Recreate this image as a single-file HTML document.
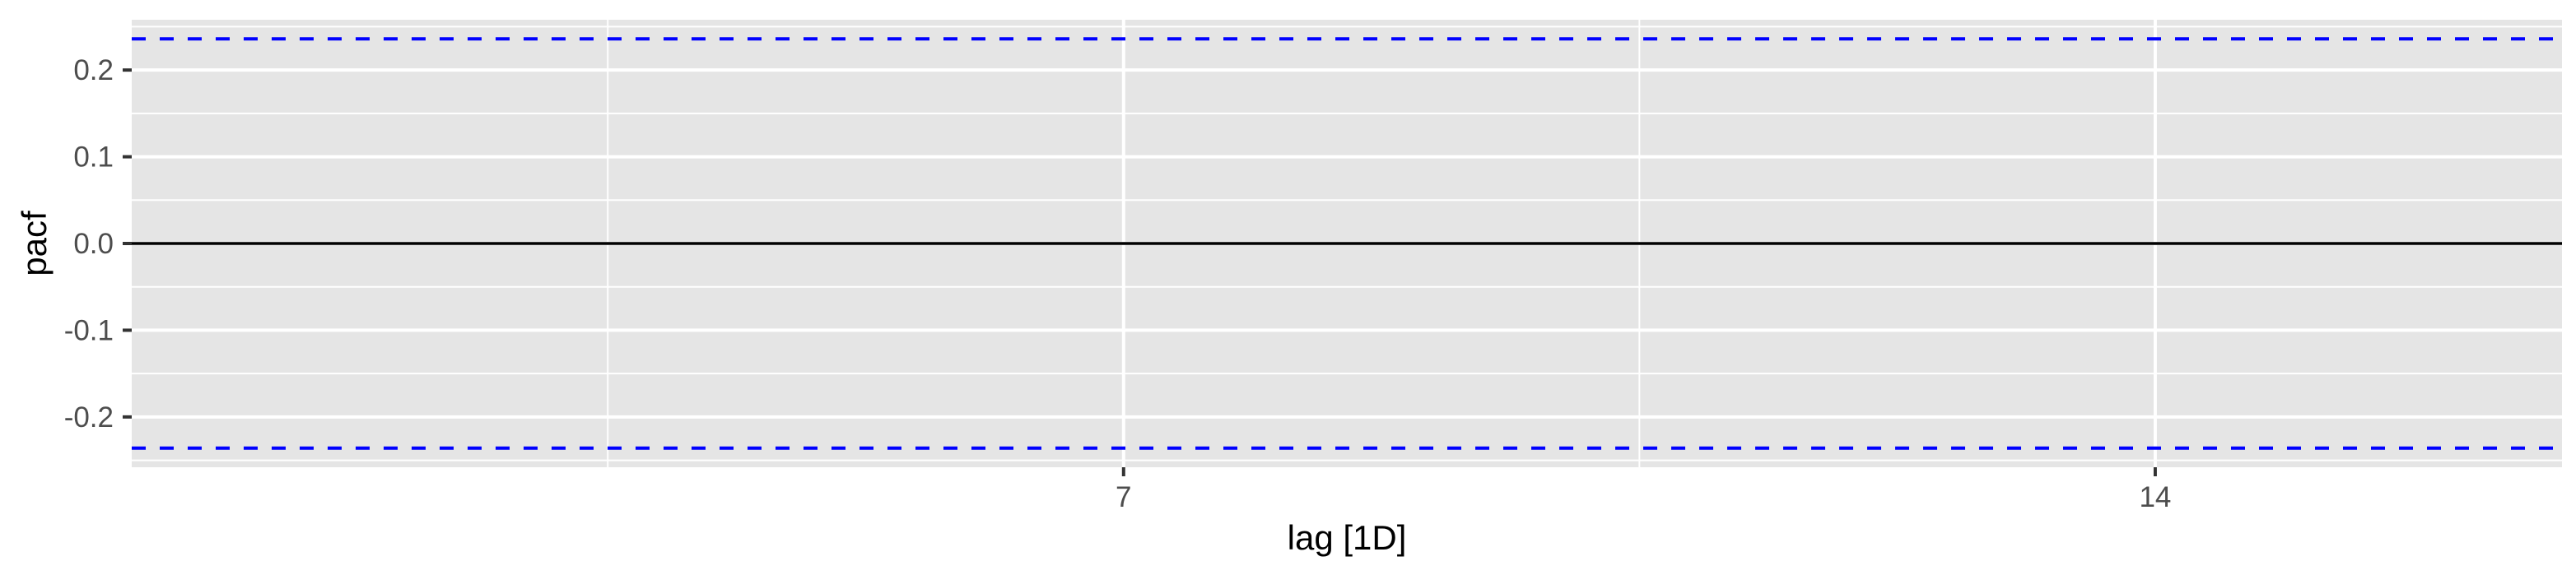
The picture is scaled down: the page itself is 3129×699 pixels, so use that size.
<!DOCTYPE html>
<html><head><meta charset="utf-8"><style>
html,body{margin:0;padding:0;background:#fff;}
svg{display:block;font-family:"Liberation Sans",Arial,sans-serif;}
</style></head><body>
<svg id="chart" width="3129" height="699" viewBox="0 0 3129 699">
<rect x="0" y="0" width="3129" height="699" fill="#fff"/>
<rect x="160" y="24" width="2952" height="544" fill="#e5e5e5"/>
<g id="grid"></g>
<g id="marks"></g>
<g id="axes"></g>
<text x="1636" y="668" font-size="42" fill="#000" text-anchor="middle">lag [1D]</text>
<text transform="translate(56,296) rotate(-90)" font-size="42" fill="#000" text-anchor="middle">pacf</text>
</svg>
<script>
const lags = [1,2,3,4,5,6,7,8,9,10,11,12,13,14,15,16];
const pacfValues = [0,0,0,0,0,0,0,0,0,0,0,0,0,0,0,0];
const ciLimit = 0.236;
const yTicks = [-0.2,-0.1,0.0,0.1,0.2];
const yTickLabels = ["-0.2","-0.1","0.0","0.1","0.2"];
const yMinor = [-0.25,-0.15,-0.05,0.05,0.15,0.25];
const xTicks = [7,14];
const xTickLabels = ["7","14"];
const xMinor = [3.5,10.5];

const NS="http://www.w3.org/2000/svg";
const px0=160, px1=3112, py0=24, py1=568;
const xDom=[0.27,16.76], yDom=[-0.258,0.258];
const xs=v=>px0+(v-xDom[0])/(xDom[1]-xDom[0])*(px1-px0);
const ys=v=>py1-(v-yDom[0])/(yDom[1]-yDom[0])*(py1-py0);
function mk(tag,attrs,parent){const e=document.createElementNS(NS,tag);for(const k in attrs)e.setAttribute(k,attrs[k]);parent.appendChild(e);return e;}
const grid=document.getElementById('grid'),marks=document.getElementById('marks'),axes=document.getElementById('axes');

yMinor.forEach(v=>{const l=mk('line',{x1:px0,x2:px1,y1:ys(v),y2:ys(v),stroke:'#fff','stroke-width':2},grid);

});
xMinor.forEach(v=>{const l=mk('line',{x1:xs(v),x2:xs(v),y1:py0,y2:py1,stroke:'#fff','stroke-width':2},grid);

});
yTicks.forEach((v,i)=>{const l=mk('line',{x1:px0,x2:px1,y1:ys(v),y2:ys(v),stroke:'#fff','stroke-width':4},grid);


const t=mk('line',{x1:px0-11,x2:px0,y1:ys(v),y2:ys(v),stroke:'#333','stroke-width':4},axes);


const tx=mk('text',{x:px0-22,y:ys(v)+12,'font-size':35,fill:'#4d4d4d','text-anchor':'end'},axes);
tx.textContent=yTickLabels[i];

});
xTicks.forEach((v,i)=>{const l=mk('line',{x1:xs(v),x2:xs(v),y1:py0,y2:py1,stroke:'#fff','stroke-width':4},grid);


const t=mk('line',{x1:xs(v),x2:xs(v),y1:py1,y2:py1+11,stroke:'#333','stroke-width':4},axes);


const tx=mk('text',{x:xs(v),y:py1+48,'font-size':35,fill:'#4d4d4d','text-anchor':'middle'},axes);
tx.textContent=xTickLabels[i];

});

const z=mk('line',{x1:px0-10,x2:px1,y1:ys(0),y2:ys(0),stroke:'#000','stroke-width':3.5},marks);


lags.forEach((lag,i)=>{const s=mk('line',{x1:xs(lag),x2:xs(lag),y1:ys(0),y2:ys(pacfValues[i]),stroke:'#000','stroke-width':3.5},marks);

});
[ciLimit,-ciLimit].forEach((v,i)=>{const l=mk('line',{x1:px0,x2:px1,y1:ys(v),y2:ys(v),stroke:'#0000ff','stroke-width':4,'stroke-dasharray':'17 17'},marks);

});
</script>
</body></html>
